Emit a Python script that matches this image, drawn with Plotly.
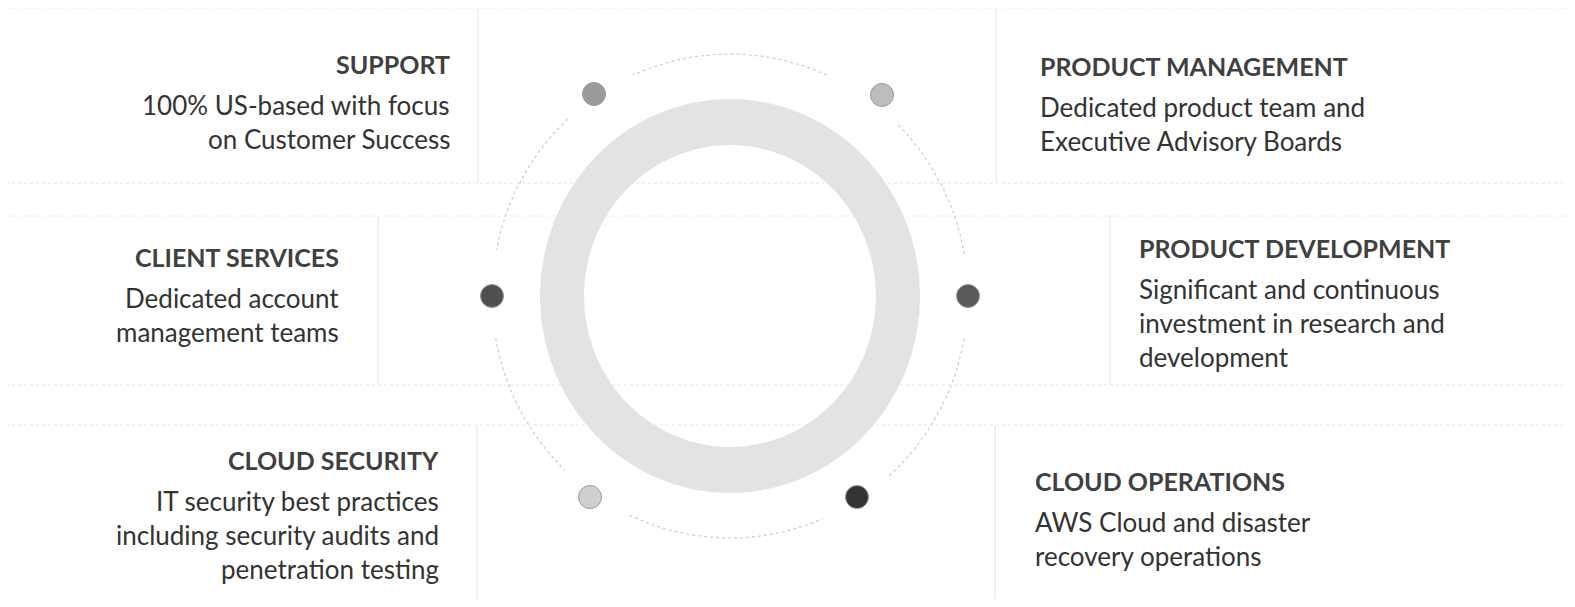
import numpy as np
import plotly.graph_objects as go

# panel content
titles = ["SUPPORT", "PRODUCT MANAGEMENT", "CLIENT SERVICES",
          "PRODUCT DEVELOPMENT", "CLOUD SECURITY", "CLOUD OPERATIONS"]
descriptions = [
    ["100% US-based with focus", "on Customer Success"],
    ["Dedicated product team and", "Executive Advisory Boards"],
    ["Dedicated account", "management teams"],
    ["Significant and continuous", "investment in research and", "development"],
    ["IT security best practices", "including security audits and", "penetration testing"],
    ["AWS Cloud and disaster", "recovery operations"],
]

# orbit dots (pixel space of the 1575x607 page, y grows downwards)
dot_x = [594, 882, 492, 968, 590, 857]
dot_y = [94, 95, 296, 296, 497, 497]
dot_colors = ["#9a9a9a", "#bdbdbd", "#4f4f4f", "#5a5a5a", "#cfcfcf", "#333333"]

# orbit arc segments, degrees (start, end)
arc_start = [66, 133, 190, 245, 312, 10]
arc_end = [114, 169, 226, 293, 350, 45]

# layout of text blocks: anchor x, title y, alignment
text_x = [452, 1038, 341, 1137, 441, 1033]
title_y = [64, 66, 257, 248, 460, 481]
align = ["right", "left", "right", "left", "right", "left"]

W, H = 1575, 607
PAD = 8  # browser body margin around the plot div
cx, cy = 730, 296
FONT = "Lato, 'Open Sans', sans-serif"

fig = go.Figure()

# background faint table lines
hlines = [(0, 1575, 8), (0, 1575, 183), (0, 1575, 216), (0, 1575, 385),
          (0, 1575, 425), (0, 1575, 600)]
vlines = [(478, 8, 183), (996, 8, 183), (378, 216, 385), (1110, 216, 385),
          (477, 425, 600), (995, 425, 600)]
for x0, x1, y in hlines:
    fig.add_shape(type="line", x0=x0, x1=x1, y0=y, y1=y,
                  line=dict(color="#e6e6e6", width=1, dash="dot"), layer="below")
for x, y0, y1 in vlines:
    fig.add_shape(type="line", x0=x, x1=x, y0=y0, y1=y1,
                  line=dict(color="#e2e2e2", width=1), layer="below")

# ring
t = np.linspace(0, 2 * np.pi, 241)
ro_x, ro_y, ri_x, ri_y = 190, 197, 146, 151
ring_x = np.concatenate([cx + ro_x * np.cos(t), [None], cx + ri_x * np.cos(t[::-1])])
ring_y = np.concatenate([cy + ro_y * np.sin(t), [None], cy + ri_y * np.sin(t[::-1])])
fig.add_trace(go.Scatter(x=ring_x, y=ring_y, mode="lines", fill="toself",
                         fillcolor="#e3e3e3", line=dict(width=0),
                         hoverinfo="skip", showlegend=False))

# orbit arcs
for a0, a1 in zip(arc_start, arc_end):
    a = np.radians(np.linspace(a0, a1, 60))
    fig.add_trace(go.Scatter(x=cx + 238 * np.cos(a), y=cy - 242 * np.sin(a),
                             mode="lines", line=dict(color="#cccccc", width=1.2, dash="dot"),
                             hoverinfo="skip", showlegend=False))

# dots
fig.add_trace(go.Scatter(x=dot_x, y=dot_y, mode="markers",
                         marker=dict(size=23, color=dot_colors,
                                     line=dict(color="#9a9a9a", width=1)),
                         hoverinfo="skip", showlegend=False))

# text blocks
for i, title in enumerate(titles):
    xanchor = align[i]
    fig.add_annotation(x=text_x[i], y=title_y[i], text="<b>" + title + "</b>",
                       showarrow=False, xanchor=xanchor, yanchor="middle",
                       font=dict(family=FONT, size=25, color="#404040"))
    for j, line in enumerate(descriptions[i]):
        fig.add_annotation(x=text_x[i], y=title_y[i] + 41 + 34 * j, text=line,
                           showarrow=False, xanchor=xanchor, yanchor="middle",
                           font=dict(family=FONT, size=26, color="#333333"))

fig.update_layout(
    width=W - 2 * PAD, height=H - 2 * PAD,
    margin=dict(l=0, r=0, t=0, b=0),
    paper_bgcolor="white", plot_bgcolor="white",
    xaxis=dict(range=[PAD, W - PAD], visible=False, fixedrange=True),
    yaxis=dict(range=[H - PAD, PAD], visible=False, fixedrange=True),
)

fig.write_html("out.html")
